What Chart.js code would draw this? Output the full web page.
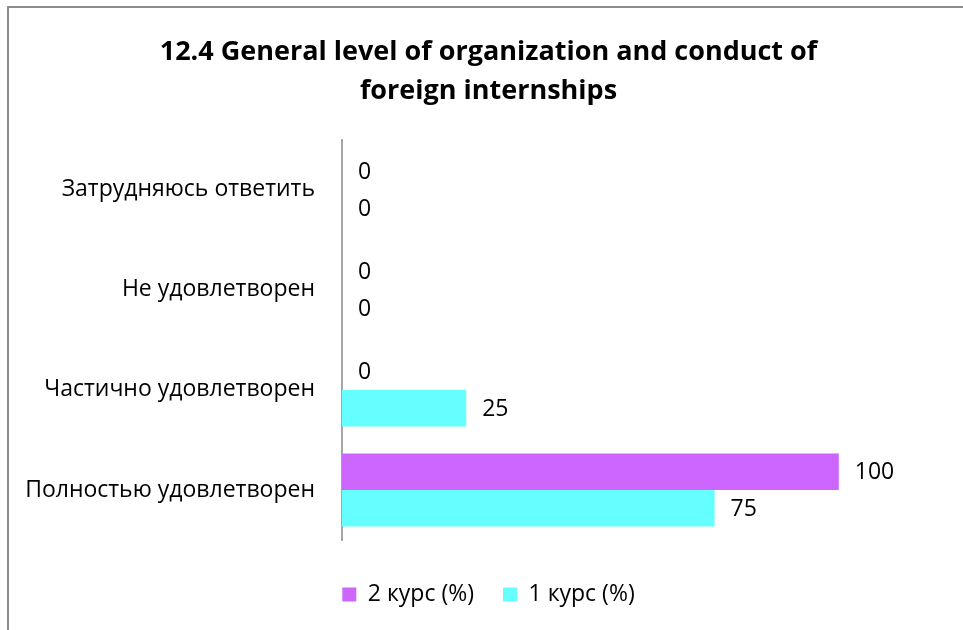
<!DOCTYPE html>
<html>
<head>
<meta charset="utf-8">
<script src="https://cdn.jsdelivr.net/npm/chart.js@4/dist/chart.umd.min.js"></script>
<style>
html,body{margin:0;padding:0;background:#fff;}
#wrap{width:963px;height:630px;position:relative;}
</style>
</head>
<body>
<div id="wrap"><canvas id="c" width="963" height="630"></canvas></div>
<script>
const categories = ["Затрудняюсь ответить", "Не удовлетворен", "Частично удовлетворен", "Полностью удовлетворен"];
const seriesNames = ["2 курс (%)", "1 курс (%)"];
const course2 = [0, 0, 0, 100];
const course1 = [0, 0, 25, 75];
const titleLines = ["12.4 General level of organization and conduct of", "foreign internships"];

const FONT = "'Open Sans', 'Noto Sans', sans-serif";

const framePlugin = {
  id: 'frame',
  beforeDraw(chart) {
    const ctx = chart.ctx;
    ctx.save();
    ctx.fillStyle = '#fff';
    ctx.fillRect(0, 0, chart.width, chart.height);
    ctx.strokeStyle = '#8c8c8c';
    ctx.lineWidth = 2;
    ctx.beginPath();
    ctx.moveTo(8, 640);
    ctx.lineTo(8, 7);
    ctx.lineTo(970, 7);
    ctx.stroke();
    ctx.restore();
  }
};

const valueLabels = {
  id: 'valueLabels',
  afterDatasetsDraw(chart) {
    const ctx = chart.ctx;
    ctx.save();
    ctx.font = "23px " + FONT;
    ctx.fillStyle = '#000';
    ctx.textBaseline = 'middle';
    ctx.textAlign = 'left';
    chart.data.datasets.forEach((ds, i) => {
      const meta = chart.getDatasetMeta(i);
      meta.data.forEach((bar, j) => {
        ctx.fillText(String(ds.data[j]), bar.x + 16, bar.y + 1);
      });
    });
    ctx.restore();
  }
};

new Chart(document.getElementById('c'), {
  type: 'bar',
  data: {
    labels: categories,
    datasets: [
      { label: seriesNames[0], data: course2, backgroundColor: '#CC66FF', borderWidth: 0 },
      { label: seriesNames[1], data: course1, backgroundColor: '#66FFFF', borderWidth: 0 }
    ]
  },
  options: {
    indexAxis: 'y',
    responsive: false,
    animation: false,
    devicePixelRatio: 1,
    layout: { padding: { left: 14, right: 0, top: 10, bottom: 14 } },
    datasets: { bar: { categoryPercentage: 0.73, barPercentage: 1.0 } },
    scales: {
      x: { display: false, min: 0, max: 125 },
      y: {
        grid: { display: false, drawTicks: false },
        border: { display: true, color: '#a6a6a6', width: 2 },
        ticks: { color: '#000', font: { family: FONT, size: 23 }, padding: 27 },
        afterFit(s) { s.width = 328; }
      }
    },
    plugins: {
      title: {
        display: true,
        text: titleLines,
        color: '#000',
        font: { family: FONT, size: 27, weight: 'bold', lineHeight: 1.44 },
        padding: { top: 23, bottom: 29 }
      },
      legend: {
        position: 'bottom',
        title: { display: true, text: '', font: { size: 10, lineHeight: 1.2 }, padding: { top: 2, bottom: 0 } },
        labels: {
          color: '#000',
          font: { family: FONT, size: 23 },
          boxWidth: 14, boxHeight: 14,
          padding: 29
        }
      },
      tooltip: { enabled: false }
    }
  },
  plugins: [framePlugin, valueLabels]
});
</script>
</body>
</html>
